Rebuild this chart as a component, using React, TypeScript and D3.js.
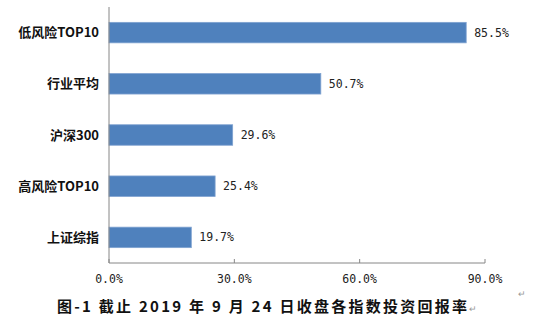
import React from "react";
import * as d3 from "d3";

const categories = ["低风险TOP10", "行业平均", "沪深300", "高风险TOP10", "上证综指"];
const values = [85.5, 50.7, 29.6, 25.4, 19.7];
const ticks = [0, 30, 60, 90];
const title = "图-1 截止 2019 年 9 月 24 日收盘各指数投资回报率";

export default function App() {
  const W = 550, H = 323;
  const x = d3.scaleLinear().domain([0, 90]).range([109, 485]);
  const y = d3.scaleBand<string>().domain(categories).range([7, 263]).paddingInner(0.6).paddingOuter(0.3);
  const axisColor = "#868686";
  const monoFont = "'DejaVu Sans Mono', monospace";
  const catFont = "'Noto Sans CJK SC', sans-serif";
  return (
    <svg width={W} height={H} style={{ position: "absolute", left: 0, top: 0, background: "#fff" }}>
      {categories.map((c, i) => (
        <g key={c}>
          <rect x={x(0)} y={y(c)!} width={x(values[i]) - x(0)} height={y.bandwidth()} fill="#4F81BD" stroke="#7FA2D0" strokeWidth={0.8} />
          <text x={x(values[i]) + 8} y={y(c)! + y.bandwidth() / 2 + 4} fontFamily={monoFont} fontSize={11.5} fill="#222">
            {values[i].toFixed(1)}%
          </text>
          <text x={99} y={y(c)! + y.bandwidth() / 2 + 4.5} textAnchor="end" fontFamily={catFont} fontWeight="bold" fontSize={13} fill="#111">
            {c}
          </text>
        </g>
      ))}
      <line x1={x(0)} x2={x(0)} y1={7} y2={263} stroke={axisColor} strokeWidth={1} />
      <line x1={x(0)} x2={x(90)} y1={263} y2={263} stroke={axisColor} strokeWidth={1} />
      {ticks.map((t) => (
        <g key={t}>
          <line x1={x(t)} x2={x(t)} y1={259} y2={263} stroke={axisColor} strokeWidth={1} />
          <text x={x(t)} y={283} textAnchor="middle" fontFamily={monoFont} fontSize={11.5} fill="#222">
            {t.toFixed(1)}%
          </text>
        </g>
      ))}
      <text x={57} y={312} fontFamily={catFont} fontWeight="bold" fontSize={15} fill="#111" textLength={410} lengthAdjust="spacing">
        {title}
      </text>
      <text x={469} y={312} fontFamily={catFont} fontSize={9} fill="#999">↵</text>
      <text x={518} y={297} fontFamily={catFont} fontSize={9} fill="#999">↵</text>
    </svg>
  );
}
